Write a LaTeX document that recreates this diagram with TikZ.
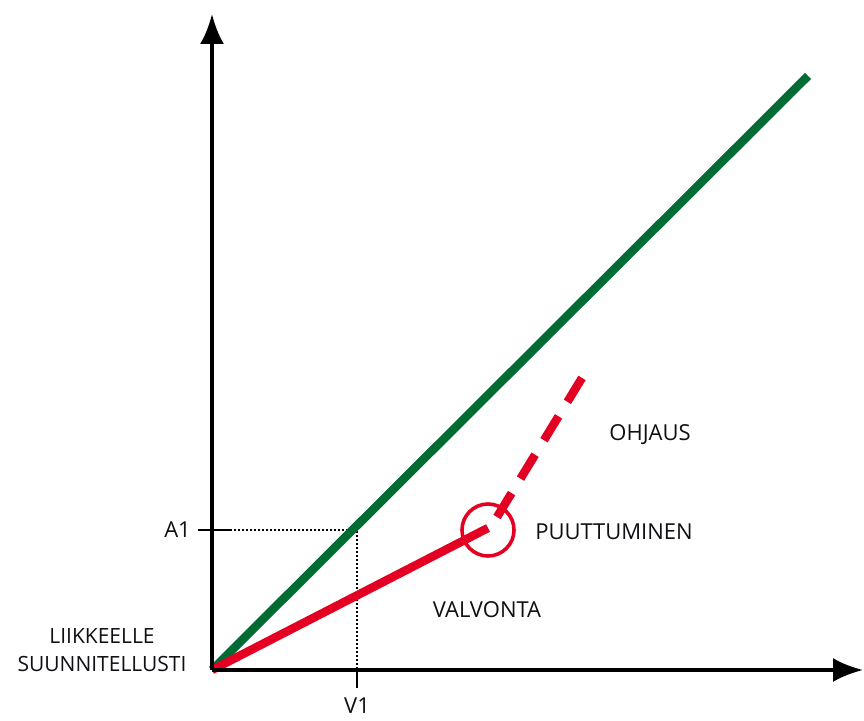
\documentclass[tikz,border=0pt]{standalone}
\usepackage{fontspec}
\setmainfont{Open Sans}
\usetikzlibrary{arrows.meta,positioning}
\definecolor{planGreen}{RGB}{0,108,52}
\definecolor{planRed}{RGB}{228,0,34}
\definecolor{labelGray}{RGB}{15,15,20}
\tikzset{
	axis/.style={line width=3.6pt,-{Latex[length=30pt,width=24pt]}}, % axis with big heads
	guide/.style={line width=1.8pt,dash pattern=on 2pt off 2pt},
	lbl/.style={text=labelGray,font=\fontsize{22}{28}\selectfont,inner sep=0pt}
}
\begin{document}
\begin{tikzpicture}[x=1pt,y=1pt,
        greenline/.style={planGreen,line width=8.5pt},
        redline/.style={planRed,line width=8.5pt},
        reddash/.style={planRed,line width=8.5pt,dash pattern=on 28pt off 17pt},
        tickline/.style={line width=2pt}
        ]
            \useasboundingbox (0,0) rectangle (864,720);
            % axes
            \coordinate (O) at (212,50);
            \coordinate (Ytop) at (212,706);
            \coordinate (Xend) at (863,50);
            % lines
            \coordinate (G) at (808,644);
            \coordinate (R) at (488,192);
            \coordinate (Ds) at (497,203);
            \coordinate (De) at (585,347);
            % guides
            \coordinate (A1l) at (198,190);
            \coordinate (A1r) at (230,190);
            \coordinate (P) at (357,190);
            \coordinate (V1t) at (357,50);
            \coordinate (V1b) at (357,32);
            \draw[guide] (A1r) -- (P) -- (V1t);
            \draw[tickline] (A1l) -- (A1r);
            \draw[tickline] (V1t) -- (V1b);
            \draw[greenline] (O) -- (G);
            \draw[redline] (O) -- (R);
            \draw[reddash] (Ds) -- (De);
            \node[draw=planRed,line width=3.6pt,circle,minimum size=52pt,inner sep=0pt] (C) at (488,190) {};
            \draw[axis] (O) -- (Ytop);
            \draw[axis] (O) -- (Xend);
            % labels
            \node[lbl,anchor=east] (A1) at (191,190) {A1};
            \node[lbl] (V1) at (357,14) {V1};
            \node[lbl,align=center,font=\fontsize{21}{28}\selectfont] (start) at (102,70) {LIIKKEELLE\\SUUNNITELLUSTI};
            \node[lbl] (ohj) at (650,285) {OHJAUS};
            \node[lbl] (puu) at (614,188) {PUUTTUMINEN};
            \node[lbl] (val) at (487,110) {VALVONTA};
        \end{tikzpicture}
\end{document}
